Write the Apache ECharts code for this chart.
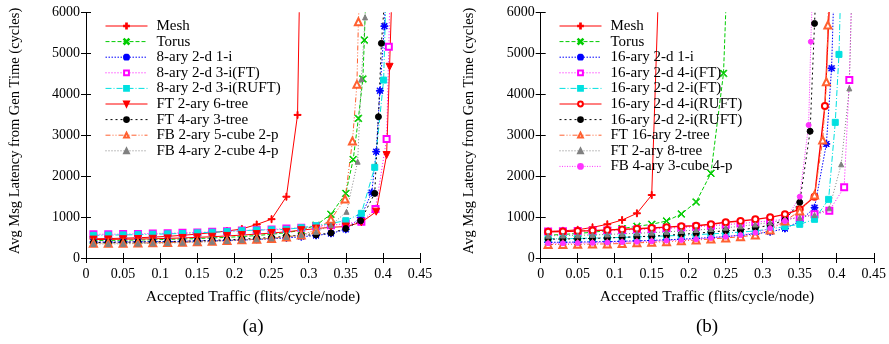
<!DOCTYPE html>
<html><head><meta charset="utf-8">
<script src="https://cdn.jsdelivr.net/npm/echarts@6/dist/echarts.min.js"></script>
<style>html,body{margin:0;padding:0;background:#fff}#c{width:889px;height:344px}</style>
</head><body><div id="c"></div>
<script>
// ---------- data: panel (a) ----------
const meshA = [[0.01,470],[0.03,475],[0.05,485],[0.07,495],[0.09,510],[0.11,530],[0.13,555],[0.15,585],[0.17,620],[0.19,660],[0.21,710],[0.23,820],[0.25,950],[0.27,1500],[0.285,3500],[0.29,9000]];
const torusA = [[0.01,430],[0.03,430],[0.05,435],[0.07,440],[0.09,445],[0.11,455],[0.13,465],[0.15,475],[0.17,490],[0.19,505],[0.21,525],[0.23,550],[0.25,580],[0.27,620],[0.29,680],[0.31,800],[0.33,1070],[0.35,1580],[0.36,2410],[0.367,3415],[0.373,4380],[0.375,5330],[0.378,7000]];
const ary8_1i = [[0.01,390],[0.03,390],[0.05,392],[0.07,395],[0.09,398],[0.11,402],[0.13,408],[0.15,414],[0.17,422],[0.19,430],[0.21,440],[0.23,455],[0.25,470],[0.27,490],[0.29,520],[0.31,550],[0.33,600],[0.35,700],[0.37,990],[0.385,1600],[0.391,2600],[0.396,4090],[0.402,5670],[0.405,7000]];
const ary8_3iFT = [[0.01,580],[0.03,580],[0.05,585],[0.07,590],[0.09,600],[0.11,605],[0.13,615],[0.15,625],[0.17,640],[0.19,655],[0.21,670],[0.23,685],[0.25,700],[0.27,720],[0.29,740],[0.31,770],[0.33,800],[0.35,840],[0.371,888],[0.39,1198],[0.405,2910],[0.408,5170],[0.41,7000]];
const ary8_3iRUFT = [[0.01,555],[0.03,560],[0.05,565],[0.07,570],[0.09,580],[0.11,590],[0.13,600],[0.15,615],[0.17,630],[0.19,645],[0.21,667],[0.23,684],[0.25,690],[0.27,702],[0.29,741],[0.31,790],[0.33,848],[0.35,912],[0.371,1093],[0.389,2218],[0.401,4352],[0.405,7000]];
const ft2ary6 = [[0.01,450],[0.03,455],[0.05,460],[0.07,465],[0.09,470],[0.11,480],[0.13,490],[0.15,505],[0.17,520],[0.19,540],[0.21,560],[0.23,585],[0.25,610],[0.27,640],[0.29,680],[0.31,720],[0.33,750],[0.35,770],[0.371,872],[0.391,1133],[0.405,2518],[0.409,4677],[0.413,7000]];
const ft4ary3 = [[0.01,380],[0.03,380],[0.05,385],[0.07,390],[0.09,395],[0.11,400],[0.13,410],[0.15,420],[0.17,430],[0.19,445],[0.21,460],[0.23,480],[0.25,500],[0.27,530],[0.29,560],[0.31,565],[0.33,610],[0.35,720],[0.37,910],[0.389,1580],[0.394,3455],[0.398,5250],[0.405,7000]];
const fb2ary5 = [[0.01,360],[0.03,360],[0.05,362],[0.07,365],[0.09,370],[0.11,378],[0.13,385],[0.15,395],[0.17,410],[0.19,425],[0.21,445],[0.23,460],[0.25,480],[0.27,515],[0.29,560],[0.31,690],[0.33,946],[0.349,1442],[0.359,2860],[0.365,4247],[0.367,5777],[0.37,7000]];
const fb4ary2 = [[0.01,345],[0.03,345],[0.05,348],[0.07,352],[0.09,358],[0.11,365],[0.13,375],[0.15,385],[0.17,400],[0.19,418],[0.21,438],[0.23,458],[0.25,480],[0.27,515],[0.29,560],[0.31,640],[0.33,800],[0.351,1130],[0.366,2355],[0.371,4377],[0.376,5885],[0.378,7000]];
// ---------- data: panel (b) ----------
const meshB = [[0.01,650],[0.03,665],[0.05,690],[0.07,750],[0.09,824],[0.11,929],[0.13,1093],[0.15,1540],[0.16,7000]];
const torusB = [[0.01,560],[0.03,575],[0.05,600],[0.07,630],[0.09,670],[0.11,720],[0.13,775],[0.15,824],[0.17,905],[0.19,1076],[0.21,1370],[0.23,2071],[0.247,4516],[0.252,7000]];
const ary16_1i = [[0.01,385],[0.03,385],[0.05,390],[0.07,395],[0.09,400],[0.11,410],[0.13,420],[0.15,430],[0.17,445],[0.19,460],[0.21,480],[0.23,500],[0.25,525],[0.27,555],[0.29,590],[0.31,640],[0.33,720],[0.35,900],[0.37,1230],[0.386,2790],[0.393,4640],[0.397,7000]];
const ary16_4iFT = [[0.01,650],[0.03,655],[0.05,660],[0.07,665],[0.09,675],[0.11,685],[0.13,695],[0.15,710],[0.17,725],[0.19,745],[0.21,765],[0.23,790],[0.25,815],[0.27,845],[0.29,875],[0.31,910],[0.33,950],[0.35,995],[0.37,1068],[0.39,1157],[0.41,1728],[0.417,4352],[0.421,7000]];
const ary16_2iFT = [[0.01,470],[0.03,472],[0.05,478],[0.07,485],[0.09,495],[0.11,505],[0.13,515],[0.15,528],[0.17,540],[0.19,555],[0.21,570],[0.23,590],[0.25,610],[0.27,635],[0.29,660],[0.31,710],[0.33,770],[0.35,824],[0.37,946],[0.389,1435],[0.398,3318],[0.403,4980],[0.406,7000]];
const ary16_4iRUFT = [[0.01,640],[0.03,650],[0.05,660],[0.07,670],[0.09,685],[0.11,700],[0.13,715],[0.15,735],[0.17,755],[0.19,775],[0.21,790],[0.23,824],[0.25,873],[0.27,905],[0.29,946],[0.31,995],[0.33,1068],[0.35,1191],[0.37,1500],[0.384,3716],[0.392,7000]];
const ary16_2iRUFT = [[0.01,460],[0.03,465],[0.05,470],[0.07,480],[0.09,490],[0.11,505],[0.13,520],[0.15,535],[0.17,555],[0.19,580],[0.21,603],[0.23,636],[0.25,667],[0.27,684],[0.29,741],[0.31,799],[0.33,929],[0.35,1362],[0.364,3100],[0.37,5738],[0.373,7000]];
const ft16ary2 = [[0.01,330],[0.03,332],[0.05,335],[0.07,340],[0.09,345],[0.11,355],[0.13,370],[0.15,385],[0.17,400],[0.19,420],[0.21,440],[0.23,465],[0.25,490],[0.27,520],[0.29,560],[0.31,684],[0.33,905],[0.35,1150],[0.37,1540],[0.381,2885],[0.386,4311],[0.388,5700],[0.39,7000]];
const ft2ary8 = [[0.01,545],[0.03,550],[0.05,555],[0.07,565],[0.09,575],[0.11,590],[0.13,605],[0.15,620],[0.17,640],[0.19,660],[0.21,685],[0.23,710],[0.25,740],[0.27,775],[0.29,820],[0.31,870],[0.33,930],[0.35,990],[0.37,1051],[0.39,1215],[0.406,2291],[0.417,4148],[0.421,7000]];
const fb4ary3 = [[0.01,360],[0.03,360],[0.05,365],[0.07,370],[0.09,380],[0.11,390],[0.13,400],[0.15,410],[0.17,425],[0.19,440],[0.21,460],[0.23,490],[0.25,520],[0.27,560],[0.29,620],[0.31,726],[0.33,905],[0.35,1499],[0.362,3252],[0.365,5290],[0.368,7000]];
// ---------- tick labels ----------
const xTicks = ['0','0.05','0.1','0.15','0.2','0.25','0.3','0.35','0.4','0.45'];
const yTicks = ['0','1000','2000','3000','4000','5000','6000'];
const namesA = ['Mesh','Torus','8-ary 2-d 1-i','8-ary 2-d 3-i(FT)','8-ary 2-d 3-i(RUFT)','FT 2-ary 6-tree','FT 4-ary 3-tree','FB 2-ary 5-cube 2-p','FB 4-ary 2-cube 4-p'];
const namesB = ['Mesh','Torus','16-ary 2-d 1-i','16-ary 2-d 4-i(FT)','16-ary 2-d 2-i(FT)','16-ary 2-d 4-i(RUFT)','16-ary 2-d 2-i(RUFT)','FT 16-ary 2-tree','FT 2-ary 8-tree','FB 4-ary 3-cube 4-p'];

const FONT = '"Liberation Serif", "Times New Roman", serif';
const PLUS = 'path://M4.3,0H5.7V4.3H10V5.7H5.7V10H4.3V5.7H0V4.3H4.3Z';
const XS = 'path://M1.5,0.8L5,4.3L8.5,0.8L9.2,1.5L5.7,5L9.2,8.5L8.5,9.2L5,5.7L1.5,9.2L0.8,8.5L4.3,5L0.8,1.5Z';
const STAR = 'path://M4.4,0H5.6V4.4H10V5.6H5.6V10H4.4V5.6H0V4.4H4.4Z M1.5,0.8L5,4.3L8.5,0.8L9.2,1.5L5.7,5L9.2,8.5L8.5,9.2L5,5.7L1.5,9.2L0.8,8.5L4.3,5L0.8,1.5Z';
const DTRI = 'path://M0,0L10,0L5,9Z';

function mk(name, data, color, dash, symbol, size, panel, width) {
  return {
    name, type: 'line', data, xAxisIndex: panel*2, yAxisIndex: panel*2,
    symbol, symbolSize: size, clip: true, animation: false,
    lineStyle: {color, width: width || 1, type: dash},
    itemStyle: {color, borderColor: color, borderWidth: 1}
  };
}
const SOLID = 'solid';
const series = [
  mk('Mesh', meshA, '#ff0000', SOLID, PLUS, 7, 0),
  mk('Torus', torusA, '#00cc00', [4,2], XS, 7, 0),
  mk('8-ary 2-d 1-i', ary8_1i, '#0000ff', [1.5,1.5], STAR, 7, 0),
  mk('8-ary 2-d 3-i(FT)', ary8_3iFT, '#ff00ff', [1,2], 'emptyRect', 6, 0),
  mk('8-ary 2-d 3-i(RUFT)', ary8_3iRUFT, '#00e0e0', [6,2,1,2], 'rect', 6, 0),
  mk('FT 2-ary 6-tree', ft2ary6, '#ff0000', SOLID, DTRI, 7, 0),
  mk('FT 4-ary 3-tree', ft4ary3, '#000000', [2,3], 'circle', 6, 0),
  mk('FB 2-ary 5-cube 2-p', fb2ary5, '#ff6030', [5,2,1,2,1,2], 'emptyTriangle', 7, 0),
  mk('FB 4-ary 2-cube 4-p', fb4ary2, '#808080', [1,2], 'triangle', 5, 0),
  mk('Mesh', meshB, '#ff0000', SOLID, PLUS, 7, 1),
  mk('Torus', torusB, '#00cc00', [4,2], XS, 7, 1),
  mk('16-ary 2-d 1-i', ary16_1i, '#0000ff', [1.5,1.5], STAR, 7, 1),
  mk('16-ary 2-d 4-i(FT)', ary16_4iFT, '#ff00ff', [1,2], 'emptyRect', 6, 1),
  mk('16-ary 2-d 2-i(FT)', ary16_2iFT, '#00e0e0', [6,2,1,2], 'rect', 6, 1),
  mk('16-ary 2-d 4-i(RUFT)', ary16_4iRUFT, '#ff0000', SOLID, 'emptyCircle', 6, 1, 1.4),
  mk('16-ary 2-d 2-i(RUFT)', ary16_2iRUFT, '#000000', [2,3], 'circle', 6, 1),
  mk('FT 16-ary 2-tree', ft16ary2, '#ff6030', [5,2,1,2,1,2], 'emptyTriangle', 7, 1),
  mk('FT 2-ary 8-tree', ft2ary8, '#808080', [1,2], 'triangle', 5, 1),
  mk('FB 4-ary 3-cube 4-p', fb4ary3, '#ff33ff', [1,1.5], 'circle', 5, 1)
];

const axisLine = {show: true, lineStyle: {color: '#000', width: 1}};
const tick = {show: true, inside: true, length: 5, lineStyle: {color: '#000'}};
function xAx(grid, pos, labels) {
  return {type: 'value', gridIndex: grid, position: pos, min: 0, max: 0.45, interval: 0.05,
    axisLine, axisTick: tick, splitLine: {show: false},
    axisLabel: {show: labels, color: '#000', fontFamily: FONT, fontSize: 14, margin: 9,
      formatter: v => xTicks[Math.round(v / 0.05)]}};
}
function yAx(grid, pos, labels) {
  return {type: 'value', gridIndex: grid, position: pos, min: 0, max: 6000, interval: 1000,
    axisLine, axisTick: tick, splitLine: {show: false},
    axisLabel: {show: labels, color: '#000', fontFamily: FONT, fontSize: 14, margin: 6,
      formatter: v => yTicks[Math.round(v / 1000)]}};
}
const legendBase = {orient: 'vertical', itemWidth: 42, itemHeight: 6, itemGap: 0.6, top: 13.5,
  lineStyle: {width: 1},
  textStyle: {fontFamily: FONT, fontSize: 15, lineHeight: 14, color: '#000', padding: [0,0,0,4]},
  selectedMode: false};
const txt = (x, y, text, size, rot) => ({type: 'text', x, y, rotation: rot || 0,
  style: {text, font: size + 'px ' + FONT, fill: '#000', textAlign: 'center', textVerticalAlign: 'middle'}});

const chart = echarts.init(document.getElementById('c'), null, {renderer: 'canvas'});
chart.setOption({
  backgroundColor: '#fff',
  animation: false,
  grid: [
    {left: 86, top: 12.7, width: 334, height: 245.3},
    {left: 540.7, top: 12.7, width: 334.3, height: 245.3}
  ],
  xAxis: [xAx(0,'bottom',true), xAx(0,'top',false), xAx(1,'bottom',true), xAx(1,'top',false)],
  yAxis: [yAx(0,'left',true), yAx(0,'right',false), yAx(1,'left',true), yAx(1,'right',false)],
  legend: [
    Object.assign({}, legendBase, {left: 100, data: namesA}),
    Object.assign({}, legendBase, {left: 554, data: namesB})
  ],
  graphic: [
    txt(15, 131, 'Avg Msg Latency from Gen Time (cycles)', 14.5, Math.PI/2),
    txt(469, 131, 'Avg Msg Latency from Gen Time (cycles)', 14.5, Math.PI/2),
    txt(253, 297, 'Accepted Traffic (flits/cycle/node)', 15.5),
    txt(707, 297, 'Accepted Traffic (flits/cycle/node)', 15.5),
    txt(253, 327, '(a)', 19),
    txt(707, 327, '(b)', 19)
  ],
  series
});
</script></body></html>
